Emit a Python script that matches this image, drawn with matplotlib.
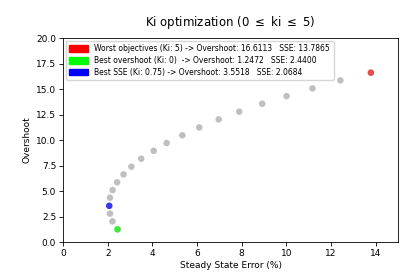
import matplotlib
matplotlib.use('Agg')
import matplotlib.pyplot as plt
import matplotlib.patches as mpatches

# Ki from 0 to 5, step 0.25
ki_values = [0, 0.25, 0.5, 0.75, 1.0, 1.25, 1.5, 1.75, 2.0, 2.25, 2.5,
             2.75, 3.0, 3.25, 3.5, 3.75, 4.0, 4.25, 4.5, 4.75, 5.0]
sse = [2.44, 2.21, 2.10, 2.0684, 2.10, 2.22, 2.42, 2.71, 3.06, 3.50, 4.06,
       4.64, 5.34, 6.10, 6.97, 7.89, 8.92, 10.01, 11.17, 12.42, 13.7865]
overshoot = [1.2472, 2.03, 2.79, 3.5518, 4.35, 5.10, 5.86, 6.63, 7.39, 8.17, 8.95,
             9.71, 10.47, 11.24, 12.03, 12.78, 13.56, 14.31, 15.07, 15.85, 16.6113]

worst_i = 20
best_os_i = 0
best_sse_i = 3

fig = plt.figure(figsize=(4.15, 2.76), dpi=100)
ax = fig.add_axes([0.152, 0.123, 0.807, 0.739])

ax.scatter(sse, overshoot, color='gray', alpha=0.5, s=22, edgecolors='none')
ax.scatter(sse[worst_i], overshoot[worst_i], color='red', alpha=0.6, s=22, edgecolors='none')
ax.scatter(sse[best_os_i], overshoot[best_os_i], color='lime', alpha=0.7, s=22, edgecolors='none')
ax.scatter(sse[best_sse_i], overshoot[best_sse_i], color='blue', alpha=0.7, s=22, edgecolors='none')

ax.set_xlim(0, 15)
ax.set_ylim(0, 20)
ax.set_xticks([0, 2, 4, 6, 8, 10, 12, 14])
ax.set_yticks([0, 2.5, 5, 7.5, 10, 12.5, 15, 17.5, 20])
ax.tick_params(labelsize=6.5, length=3, width=0.6, pad=2)
for sp in ax.spines.values():
    sp.set_linewidth(0.6)

ax.set_xlabel('Steady State Error (%)', fontsize=6.5, labelpad=2)
ax.set_ylabel('Overshoot', fontsize=6.5, labelpad=3)
ax.set_title('Ki optimization (0 $\\leq$ ki $\\leq$ 5)', fontsize=8.5, pad=9)

handles = [
    mpatches.Patch(color='red', label='Worst objectives (Ki: %g) -> Overshoot: %.4f   SSE: %.4f'
                   % (ki_values[worst_i], overshoot[worst_i], sse[worst_i])),
    mpatches.Patch(color='lime', label='Best overshoot (Ki: %g)  -> Overshoot: %.4f   SSE: %.4f'
                   % (ki_values[best_os_i], overshoot[best_os_i], sse[best_os_i])),
    mpatches.Patch(color='blue', label='Best SSE (Ki: %g) -> Overshoot: %.4f   SSE: %.4f'
                   % (ki_values[best_sse_i], overshoot[best_sse_i], sse[best_sse_i])),
]
ax.legend(handles=handles, loc='upper left', fontsize=5.5, handlelength=2.5,
          handleheight=1.0, borderpad=0.45, labelspacing=0.35, borderaxespad=0.35)

fig.savefig('out.png', dpi=100)
